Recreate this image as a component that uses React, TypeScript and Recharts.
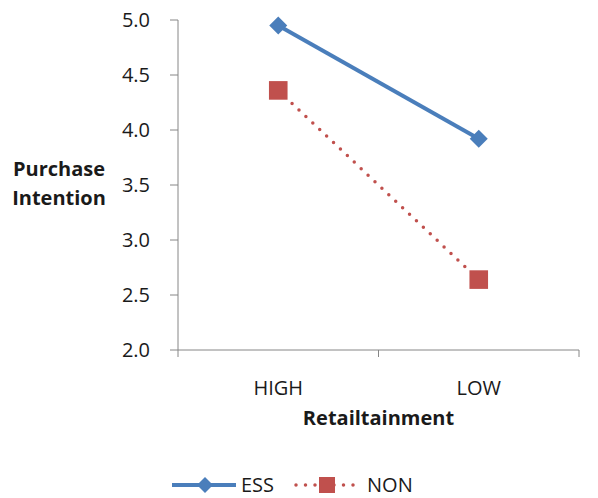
import { LineChart, Line, XAxis, YAxis, Legend } from 'recharts';

const categories = ['HIGH', 'LOW'];
const essValues = [4.95, 3.92];
const nonValues = [4.36, 2.64];
const yTicks = [2, 2.5, 3, 3.5, 4, 4.5, 5];
// band edges get tick marks, band centres get the category labels
const xTicks = [0, 0.5, 1, 1.5, 2];

const BLUE = '#4a7ebb';
const RED = '#c0504d';
const GREY = '#868686';
const FONT = '"Open Sans", sans-serif';

const data = categories.map((name, i) => ({
  pos: i + 0.5,
  name,
  ess: essValues[i],
  non: nonValues[i],
}));

function Diamond({ cx, cy, r = 9 }: any) {
  return <path d={`M${cx},${cy - r}L${cx + r},${cy}L${cx},${cy + r}L${cx - r},${cy}Z`} fill={BLUE} />;
}

function Square({ cx, cy, r = 9.3 }: any) {
  return <rect x={cx - r} y={cy - r} width={r * 2} height={r * 2} fill={RED} />;
}

function XTick({ x, y, payload }: any) {
  const v = payload.value;
  if (Number.isInteger(v)) {
    return <line x1={x} x2={x} y1={y - 7} y2={y} stroke={GREY} strokeWidth={1} />;
  }
  return (
    <text x={x} y={y + 33} textAnchor="middle" dominantBaseline="middle" fontSize={20} fill="#1a1a1a" fontFamily={FONT}>
      {categories[Math.floor(v)]}
    </text>
  );
}

function LegendContent() {
  return (
    <div style={{ height: 22, display: 'flex', alignItems: 'center', paddingLeft: 164, fontFamily: FONT, fontSize: 20, lineHeight: '22px', color: '#1a1a1a' }}>
      <svg width={64} height={22}>
        <line x1={0} x2={64} y1={11} y2={11} stroke={BLUE} strokeWidth={4} />
        <Diamond cx={33} cy={11} r={8} />
      </svg>
      <span style={{ marginLeft: 5 }}>ESS</span>
      <svg width={64} height={22} style={{ marginLeft: 20 }}>
        <line x1={2} x2={62} y1={11} y2={11} stroke={RED} strokeWidth={3.5} strokeDasharray="0 9.5" strokeLinecap="round" />
        <Square cx={33} cy={11} r={8} />
      </svg>
      <span style={{ marginLeft: 9 }}>NON</span>
    </div>
  );
}

export default function App() {
  return (
    <div style={{ marginTop: -8 }}>
      <LineChart width={590} height={498} data={data} margin={{ top: 20, right: 19, left: 0, bottom: 0 }}>
        <XAxis
          dataKey="pos"
          type="number"
          domain={[0, 2]}
          ticks={xTicks}
          interval={0}
          height={126}
          stroke={GREY}
          tickLine={false}
          tickSize={7}
          tickMargin={0}
          tick={<XTick />}
          label={{
            content: ({ viewBox }: any) => (
              <text
                x={viewBox.x + viewBox.width / 2}
                y={viewBox.y + 70}
                textAnchor="middle"
                dominantBaseline="middle"
                fontSize={20}
                fontWeight="bold"
                fill="#1a1a1a"
                fontFamily={FONT}
              >
                Retailtainment
              </text>
            ),
          }}
        />
        <YAxis
          type="number"
          domain={[2, 5]}
          ticks={yTicks}
          interval={0}
          width={170}
          stroke={GREY}
          tickSize={8}
          tickMargin={20}
          tickFormatter={(v: number) => v.toFixed(1)}
          tick={{ fontSize: 20, fill: '#1a1a1a', fontFamily: FONT }}
          label={{
            content: ({ viewBox }: any) => {
              const cy = viewBox.y + viewBox.height / 2;
              return (
                <text textAnchor="middle" fontSize={20} fontWeight="bold" fill="#1a1a1a" fontFamily={FONT}>
                  <tspan x={viewBox.x + 51} y={cy - 14} dominantBaseline="middle">Purchase</tspan>
                  <tspan x={viewBox.x + 51} y={cy + 15} dominantBaseline="middle">Intention</tspan>
                </text>
              );
            },
          }}
        />
        <Legend verticalAlign="bottom" wrapperStyle={{ bottom: 2 }} content={<LegendContent />} />
        <Line
          dataKey="ess"
          name="ESS"
          stroke={BLUE}
          strokeWidth={4}
          dot={(p: any) => <Diamond key={`d-${p.index}`} cx={p.cx} cy={p.cy} />}
          activeDot={false}
          isAnimationActive={false}
        />
        <Line
          dataKey="non"
          name="NON"
          stroke={RED}
          strokeWidth={3.5}
          strokeDasharray="0 9.5"
          strokeLinecap="round"
          dot={(p: any) => <Square key={`s-${p.index}`} cx={p.cx} cy={p.cy} />}
          activeDot={false}
          isAnimationActive={false}
        />
      </LineChart>
    </div>
  );
}
